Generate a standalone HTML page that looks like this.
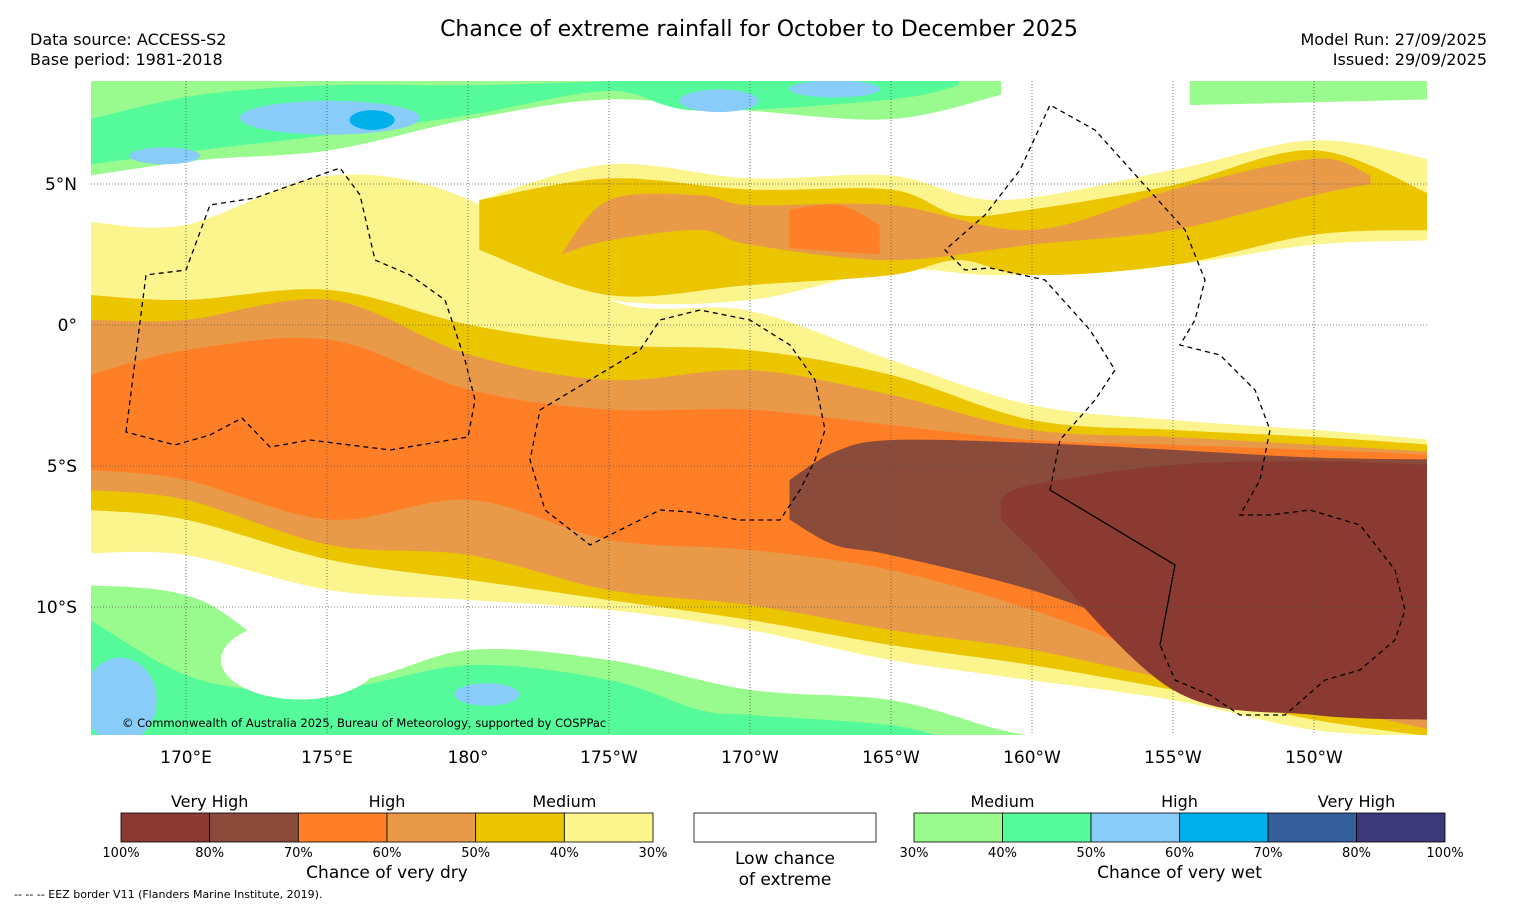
<!DOCTYPE html>
<html><head><meta charset="utf-8">
<style>
body{margin:0;background:#fff;width:1517px;height:908px;overflow:hidden;font-family:"DejaVu Sans","Liberation Sans",sans-serif;}
svg{position:absolute;left:0;top:0}
text{font-family:"DejaVu Sans","Liberation Sans",sans-serif;fill:#000}
</style></head><body>
<svg id="s" width="1517" height="908">
<defs><clipPath id="mc"><rect x="91" y="81" width="1336" height="654"/></clipPath></defs>
<text x="759" y="36" text-anchor="middle" font-size="22">Chance of extreme rainfall for October to December 2025</text>
<text x="30" y="45" font-size="16">Data source: ACCESS-S2</text>
<text x="30" y="65" font-size="16">Base period: 1981-2018</text>
<text x="1487" y="45" font-size="16" text-anchor="end">Model Run: 27/09/2025</text>
<text x="1487" y="65" font-size="16" text-anchor="end">Issued: 29/09/2025</text>
<g id="map" clip-path="url(#mc)"></g>
<g id="axes"></g>
<g id="legend"></g>
<text x="14" y="898" font-size="11">--  --  -- EEZ border V11 (Flanders Marine Institute, 2019).</text>
</svg>
<script>
// ---- data ----
const lonTicks=[170,175,180,185,190,195,200,205,210];
const lonLabels=["170°E","175°E","180°","175°W","170°W","165°W","160°W","155°W","150°W"];
const latTicks=[5,0,-5,-10];
const latLabels=["5°N","0°","5°S","10°S"];
const sLon=[166.6,170,175.1,180.07,185,190,195,200,205,210,214.2];
const sYellowTop=[3.65,3.55,5.3,4.43,0.89,0.5,-1.24,-2.84,-3.37,-3.72,-4.08];
const sYellowBot=[-8.09,-8.16,-9.4,-9.75,-10.1,-10.82,-11.88,-12.6,-13.3,-14.36,-14.6];
const sGoldTop=[1.06,0.89,1.24,0,-0.7,-0.89,-1.77,-3.37,-3.72,-3.97,-4.25];
const sGoldBot=[-6.56,-6.9,-8.33,-9.04,-9.75,-10.46,-11.35,-12.06,-12.94,-14,-14.6];
const sLoTop=[0.18,0.18,0.89,-1.06,-1.95,-1.6,-2.48,-3.72,-3.97,-4.25,-4.5];
const sLoBot=[-5.85,-6.2,-7.8,-8.16,-9.4,-9.93,-10.82,-11.52,-12.59,-13.48,-14.36];
const sOrTop=[-1.77,-0.89,-0.53,-2.3,-3,-3,-3.55,-4.08,-4.25,-4.43,-4.6];
const sOrBot=[-5.14,-5.5,-6.9,-6.2,-7.62,-7.98,-8.69,-10.1,-11.88,-12.94,-14];
const brLon=[191.4,193,195,200,205,210,214.2];
const brTop=[-5.5,-4.5,-4.08,-4.18,-4.43,-4.7,-4.77];
const brBot=[-6.9,-7.8,-8.16,-9.4,-11.17,-12.59,-13.83];
const dkLon=[198.9,200,205,210,214.2];
const dkTop=[-6.2,-5.67,-4.96,-4.84,-4.96];
const dkBot=[-6.9,-7.98,-12.94,-13.83,-14];
const nYLon=[180.4,185,190,195,198.9,205,210,214.2];
const nYTop=[4.43,5.7,5.2,5.3,4.43,5.5,6.55,5.85];
const nYBot=[2.3,0.89,0.89,1.95,1.77,2.13,2.85,3.0];
const nGLon=[180.4,185,190,195,197.4,200,205,210,214.2];
const nGTop=[4.43,5.2,4.8,4.8,3.9,4.1,4.96,6.2,4.6];
const nGBot=[2.66,1.06,1.42,1.77,2.3,1.77,2.13,3.2,3.37];
const nLLon=[183.3,185,188.2,190,195,200,205,210,212];
const nLTop=[2.5,4.43,4.6,4.25,4.25,3.37,4.8,5.9,5.3];
const nLBot=[2.5,3.0,3.37,2.85,2.3,2.85,3.37,4.6,5.0];
const nOLon=[191.4,193.2,194.6];
const nOTop=[4.1,4.25,3.55];
const nOBot=[2.73,2.6,2.5];
const wG1Lon=[166.6,170.5,175.1,180.07,185,190,195,198.9];
const wG1Top=[8.8,8.8,8.8,8.8,8.8,8.8,8.8,8.8];
const wG1Bot=[5.3,5.85,6.2,7.3,8,7.6,7.3,8.16];
const wG2Lon=[205.6,210,214.2];
const wG2Top=[8.8,8.8,8.8];
const wG2Bot=[7.8,7.9,8.0];
const wM1Lon=[166.6,170.5,175.1,180.07,185,188.2,195,197.4];
const wM1Top=[7.3,8.16,8.5,8.5,8.65,8.8,8.8,8.8];
const wM1Bot=[5.7,6.2,6.75,7.45,8.3,7.6,8.0,8.5];
const wG3Lon=[166.6,170.5,175.1,180.07,185,190,195,198.9,201];
const wG3Top=[-9.22,-9.75,-12.59,-11.52,-11.88,-12.94,-13.3,-14.36,-14.7];
const wG3Bot=[-14.7,-14.7,-14.7,-14.7,-14.7,-14.7,-14.7,-14.7,-14.7];
const wM3Lon=[166.6,170.5,175.1,180.07,185,188.2,190,195,197];
const wM3Top=[-10.46,-12.59,-12.94,-12.06,-12.59,-13.65,-13.83,-14.19,-14.7];
const wM3Bot=[-14.7,-14.7,-14.7,-14.7,-14.7,-14.7,-14.7,-14.7,-14.7];
const blobLon=[175.1,169.25,188.9,193,167.66,180.67,174.04,176.6];
const blobLat=[7.35,6.0,7.95,8.37,-13.3,-13.1,-11.88,7.27];
const blobRLon=[3.2,1.25,1.4,1.6,1.3,1.15,2.8,0.8];
const blobRLat=[0.6,0.3,0.4,0.3,1.5,0.4,1.4,0.35];
const blobColor=["#88ccfa","#88ccfa","#88ccfa","#88ccfa","#88ccfa","#88ccfa","#ffffff","#00b0ea"];
const blobName=["wet-50-north-a","wet-50-north-b","wet-50-north-c","wet-50-north-d","wet-50-south-a","wet-50-south-b","low-chance-pocket","wet-60-north"];
const dryCats=["100%","80%","70%","60%","50%","40%","30%"];
const dryColors=["#8a3a30","#8a4b3b","#ff7f27","#e99a48","#ebc600","#fcf48c"];
const wetCats=["30%","40%","50%","60%","70%","80%","100%"];
const wetColors=["#99fa8e","#55fa9a","#88ccfa","#00b0ea","#355f9a","#3c3a78"];

const X=lon=>186+(lon-170)*28.2;
const Y=lat=>325-lat*28.2;
const NS="http://www.w3.org/2000/svg";
function mk(tag,attrs,parent){const e=document.createElementNS(NS,tag);for(const k in attrs)e.setAttribute(k,attrs[k]);parent.appendChild(e);return e;}
function smooth(pts){let d="";for(let i=0;i<pts.length-1;i++){const p0=pts[Math.max(0,i-1)],p1=pts[i],p2=pts[i+1],p3=pts[Math.min(pts.length-1,i+2)];
const c1=[p1[0]+(p2[0]-p0[0])/6,p1[1]+(p2[1]-p0[1])/6],c2=[p2[0]-(p3[0]-p1[0])/6,p2[1]-(p3[1]-p1[1])/6];
d+=` C${c1[0].toFixed(1)},${c1[1].toFixed(1)} ${c2[0].toFixed(1)},${c2[1].toFixed(1)} ${p2[0].toFixed(1)},${p2[1].toFixed(1)}`;}return d;}
const map=document.getElementById('map');
function band(name,color,lons,top,bot){
  const t=lons.map((l,i)=>[X(l),Y(top[i])]);
  const b=lons.map((l,i)=>[X(l),Y(bot[i])]).reverse();
  const d=`M${t[0][0]},${t[0][1]}`+smooth(t)+` L${b[0][0]},${b[0][1]}`+smooth(b)+"Z";
  const p=mk('path',{d:d,fill:color},map);
  
  
}
band('wet-30-north-band','#99fa8e',wG1Lon,wG1Top,wG1Bot);
band('wet-30-north-band-east','#99fa8e',wG2Lon,wG2Top,wG2Bot);
band('wet-40-north-band','#55fa9a',wM1Lon,wM1Top,wM1Bot);
band('wet-30-south-band','#99fa8e',wG3Lon,wG3Top,wG3Bot);
band('wet-40-south-band','#55fa9a',wM3Lon,wM3Top,wM3Bot);
band('dry-30-south-band','#fcf48c',sLon,sYellowTop,sYellowBot);
band('dry-30-north-band','#fcf48c',nYLon,nYTop,nYBot);
band('dry-40-south-band','#ebc600',sLon,sGoldTop,sGoldBot);
band('dry-40-north-band','#ebc600',nGLon,nGTop,nGBot);
band('dry-50-south-band','#e99a48',sLon,sLoTop,sLoBot);
band('dry-50-north-band','#e99a48',nLLon,nLTop,nLBot);
band('dry-60-south-band','#ff7f27',sLon,sOrTop,sOrBot);
band('dry-60-north-band','#ff7f27',nOLon,nOTop,nOBot);
band('dry-70-band','#8a4b3b',brLon,brTop,brBot);
band('dry-80-band','#8a3a30',dkLon,dkTop,dkBot);
blobLon.forEach((l,i)=>{
  const e=mk('ellipse',{cx:X(l),cy:Y(blobLat[i]),rx:blobRLon[i]*28.2,ry:blobRLat[i]*28.2,fill:blobColor[i]},map);
  
  
});
const eez=["M126,432 L146,275 L186,270 L210,205 L255,198 L340,168 L360,195 L375,260 L410,275 L445,300 L465,360 L475,400 L468,437 L390,450 L310,440 L270,447 L242,418 L210,435 L175,445 Z",
"M540,410 L590,380 L640,350 L660,320 L700,310 L750,320 L790,345 L815,380 L825,430 L815,460 L800,490 L780,520 L740,520 L690,512 L660,510 L590,545 L545,510 L530,460 Z",
"M1050,490 L1060,440 L1095,400 L1115,370 L1090,330 L1045,280 L990,268 L965,270 L945,250 L985,215 L1020,170 L1050,105 L1095,130 L1140,180 L1185,230 L1205,280 L1195,320 L1180,345 L1220,355 L1255,390 L1270,430 L1260,480 L1240,515 L1270,515 L1310,510 L1360,525 L1395,570 L1405,610 L1395,640 L1360,670 L1325,680 L1285,715 L1240,715 L1210,695 L1175,680 L1160,645"];
eez.forEach((d,i)=>{const p=mk('path',{d:d,fill:'none',stroke:'#000','stroke-width':1.3,'stroke-dasharray':'5,4'},map);

});
const sl=mk('path',{d:'M1050,490 L1175,565 L1160,645',fill:'none',stroke:'#000','stroke-width':1.3},map);


const cp=mk('text',{x:122,y:727,'font-size':11.5,fill:'#666'},map);cp.textContent="© Commonwealth of Australia 2025, Bureau of Meteorology, supported by COSPPac";


const axes=document.getElementById('axes');
lonTicks.forEach((l,i)=>{
  const g=mk('line',{x1:X(l),x2:X(l),y1:81,y2:735,stroke:'#555','stroke-width':0.8,'stroke-dasharray':'1,2'},axes);
  
  
  const t=mk('text',{x:X(l),y:763,'text-anchor':'middle','font-size':17},axes);t.textContent=lonLabels[i];
  
  
});
latTicks.forEach((l,i)=>{
  const g=mk('line',{x1:91,x2:1427,y1:Y(l),y2:Y(l),stroke:'#555','stroke-width':0.8,'stroke-dasharray':'1,2'},axes);
  
  
  const t=mk('text',{x:77,y:Y(l)+6,'text-anchor':'end','font-size':17},axes);t.textContent=latLabels[i];
  
  
});
const lg=document.getElementById('legend');
function bar(x0,w,colors,cats,heads,title,nm){
  const cw=w/colors.length;
  colors.forEach((c,i)=>{const r=mk('rect',{x:x0+i*cw,y:813,width:cw,height:29,fill:c,stroke:'#000','stroke-width':0.8},lg);
  
  });
  cats.forEach((c,i)=>{const t=mk('text',{x:x0+i*cw,y:857,'text-anchor':'middle','font-size':13},lg);t.textContent=c;
  
  });
  heads.forEach((h,i)=>{const t=mk('text',{x:x0+(1+2*i)*cw,y:807,'text-anchor':'middle','font-size':16},lg);t.textContent=h;
  
  });
  const t=mk('text',{x:x0+w/2,y:878,'text-anchor':'middle','font-size':17},lg);t.textContent=title;
  
  
}
bar(121,532,dryColors,dryCats,["Very High","High","Medium"],"Chance of very dry","dry-legend");
bar(914,531,wetColors,wetCats,["Medium","High","Very High"],"Chance of very wet","wet-legend");
const wb=mk('rect',{x:694,y:813,width:182,height:29,fill:'#fff',stroke:'#000','stroke-width':0.8},lg);


const l1=mk('text',{x:785,y:864,'text-anchor':'middle','font-size':17},lg);l1.textContent="Low chance";


const l2=mk('text',{x:785,y:885,'text-anchor':'middle','font-size':17},lg);l2.textContent="of extreme";


</script>
</body></html>
